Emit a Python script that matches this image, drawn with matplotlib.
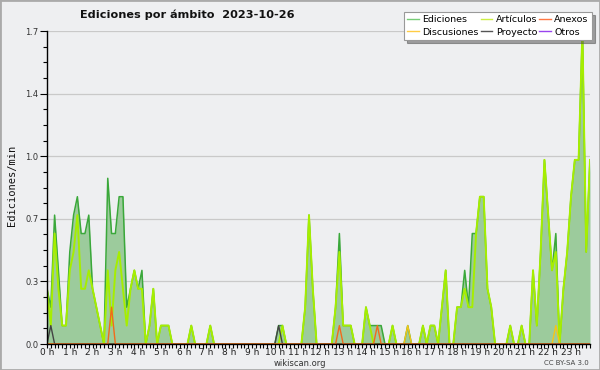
import numpy as np
import matplotlib
matplotlib.use("Agg")
import matplotlib.pyplot as plt
from matplotlib.lines import Line2D
from matplotlib.patches import Rectangle

# ---- data: edits/min in 10-minute bins (144 bins) ----
ediciones = [0.3, 0.2, 0.7, 0.4, 0.1, 0.1, 0.5, 0.7, 0.8, 0.6, 0.6, 0.7,
             0.3, 0.2, 0.1, 0.0, 0.9, 0.6, 0.6, 0.8, 0.8, 0.2, 0.3, 0.4,
             0.3, 0.4, 0.0, 0.1, 0.3, 0.0, 0.1, 0.1, 0.1, 0.0, 0.0, 0.0,
             0.0, 0.0, 0.1, 0.0, 0.0, 0.0, 0.0, 0.1, 0.0, 0.0, 0.0, 0.0,
             0.0, 0.0, 0.0, 0.0, 0.0, 0.0, 0.0, 0.0, 0.0, 0.0, 0.0, 0.0,
             0.0, 0.1, 0.1, 0.0, 0.0, 0.0, 0.0, 0.0, 0.2, 0.7, 0.3, 0.0,
             0.0, 0.0, 0.0, 0.0, 0.2, 0.6, 0.1, 0.1, 0.1, 0.0, 0.0, 0.0,
             0.2, 0.1, 0.1, 0.1, 0.1, 0.0, 0.0, 0.1, 0.0, 0.0, 0.0, 0.1,
             0.0, 0.0, 0.0, 0.1, 0.0, 0.1, 0.1, 0.0, 0.2, 0.4, 0.0, 0.0,
             0.2, 0.2, 0.4, 0.2, 0.6, 0.6, 0.8, 0.8, 0.3, 0.2, 0.0, 0.0,
             0.0, 0.0, 0.1, 0.0, 0.0, 0.1, 0.0, 0.0, 0.4, 0.1, 0.5, 1.0,
             0.7, 0.4, 0.6, 0.0, 0.3, 0.5, 0.8, 1.0, 1.0, 1.7, 0.5, 1.0]

articulos = [0.3, 0.1, 0.6, 0.3, 0.1, 0.1, 0.4, 0.5, 0.7, 0.3, 0.3, 0.4,
             0.3, 0.2, 0.1, 0.0, 0.4, 0.1, 0.4, 0.5, 0.3, 0.1, 0.3, 0.4,
             0.3, 0.3, 0.0, 0.1, 0.3, 0.0, 0.1, 0.1, 0.1, 0.0, 0.0, 0.0,
             0.0, 0.0, 0.1, 0.0, 0.0, 0.0, 0.0, 0.1, 0.0, 0.0, 0.0, 0.0,
             0.0, 0.0, 0.0, 0.0, 0.0, 0.0, 0.0, 0.0, 0.0, 0.0, 0.0, 0.0,
             0.0, 0.0, 0.1, 0.0, 0.0, 0.0, 0.0, 0.0, 0.2, 0.7, 0.3, 0.0,
             0.0, 0.0, 0.0, 0.0, 0.2, 0.5, 0.1, 0.1, 0.1, 0.0, 0.0, 0.0,
             0.2, 0.1, 0.0, 0.0, 0.0, 0.0, 0.0, 0.1, 0.0, 0.0, 0.0, 0.0,
             0.0, 0.0, 0.0, 0.1, 0.0, 0.1, 0.1, 0.0, 0.2, 0.4, 0.0, 0.0,
             0.2, 0.2, 0.3, 0.2, 0.2, 0.6, 0.8, 0.8, 0.3, 0.2, 0.0, 0.0,
             0.0, 0.0, 0.1, 0.0, 0.0, 0.1, 0.0, 0.0, 0.4, 0.1, 0.5, 1.0,
             0.7, 0.4, 0.5, 0.0, 0.3, 0.5, 0.8, 1.0, 1.0, 1.7, 0.5, 1.0]

anexos_bins = {17: 0.2, 77: 0.1, 87: 0.1}
discusiones_bins = {95: 0.1, 134: 0.1}
proyecto_bins = {1: 0.1, 61: 0.1}
otros_bins = {}

def expand(d):
    return [d.get(i, 0.0) for i in range(144)]

anexos = expand(anexos_bins)
discusiones = expand(discusiones_bins)
proyecto = expand(proyecto_bins)
otros = expand(otros_bins)

hours = np.arange(144) / 6.0
hour_labels = [f"{h} h" for h in range(24)]
ytick_vals = [0, 0.34, 0.68, 1.02, 1.36, 1.7]
ytick_labels = ["0.0", "0.3", "0.7", "1.0", "1.4", "1.7"]

BG = "#eeeff1"
fig = plt.figure(figsize=(6, 3.7), dpi=100, facecolor=BG)
ax = fig.add_axes([47/600, 26/370, 543/600, 313/370], facecolor=BG)

ax.fill_between(hours, ediciones, 0, color="#9ccb9c", lw=0, zorder=1)
ax.plot(hours, ediciones, color="#3aa83a", lw=1.1, zorder=2)
ax.plot(hours, articulos, color="#a6ee00", lw=1.4, zorder=3)
ax.plot(hours, discusiones, color="#f5c518", lw=1.0, zorder=3)
ax.plot(hours, proyecto, color="#444444", lw=1.0, zorder=3)
ax.plot(hours, anexos, color="#f26a1b", lw=1.0, zorder=4)
ax.plot(hours, otros, color="#9b30ff", lw=1.0, zorder=1.5)

ax.set_xlim(0, 143/6)
ax.set_ylim(0, 1.7)
ax.set_yticks(ytick_vals)
ax.set_yticklabels(ytick_labels, fontsize=6, color="#333333")
ax.set_yticks(np.arange(0, 1.71, 0.085), minor=True)
ax.set_xticks(range(24))
ax.set_xticklabels(hour_labels, fontsize=6.5, color="#222222")
ax.set_xticks(np.arange(144) / 6.0, minor=True)
ax.tick_params(axis="y", which="major", length=5, width=0.8, pad=1)
ax.tick_params(axis="y", which="minor", length=3, width=0.8)
ax.tick_params(axis="x", which="major", length=3, width=0.8, pad=0)
ax.tick_params(axis="x", which="minor", length=3, width=0.8)
ax.grid(axis="y", which="major", color="#c9c9c9", lw=0.9, zorder=0)
ax.set_axisbelow(True)
for s in ["top", "right"]:
    ax.spines[s].set_visible(False)
for s in ["left", "bottom"]:
    ax.spines[s].set_linewidth(1.0)
    ax.spines[s].set_zorder(5)

fig.text(187/600, 1 - 15/370, "Ediciones por ámbito  2023-10-26", ha="center",
         va="center", fontsize=8.1, fontweight="bold", color="#111111")
fig.text(12/600, 1 - 185/370, "Ediciones/min", rotation=90, ha="center",
         va="center", fontsize=7.5, family="DejaVu Sans Mono", color="#111111")
fig.text(300/600, 1 - 363/370, "wikiscan.org", ha="center", va="center",
         fontsize=6, color="#333333")
fig.text(589/600, 1 - 363/370, "CC BY-SA 3.0", ha="right", va="center",
         fontsize=5, color="#444444")

handles = [
    Line2D([], [], color="#77cc77", lw=1),
    Line2D([], [], color="#ffcc44", lw=1),
    Line2D([], [], color="#ccee44", lw=1),
    Line2D([], [], color="#555555", lw=1),
    Line2D([], [], color="#ff7744", lw=1),
    Line2D([], [], color="#9944ee", lw=1),
]
labels = ["Ediciones", "Discusiones", "Artículos", "Proyecto", "Anexos", "Otros"]
leg = fig.legend(handles, labels, loc="upper right", bbox_to_anchor=(592/600, 1 - 12/370),
                 ncol=3, fontsize=6.8, frameon=True, fancybox=False, shadow=True,
                 handlelength=1.2, handletextpad=0.4, columnspacing=0.2,
                 labelspacing=0.35, borderpad=0.35, borderaxespad=0)
leg.get_frame().set_edgecolor("#999999")
leg.get_frame().set_linewidth(0.8)
leg.get_frame().set_facecolor("white")

fig.add_artist(Rectangle((0, 0), 1, 1, transform=fig.transFigure, fill=False,
                         ec="#aaaaaa", lw=2))

fig.savefig("out.png", dpi=100, facecolor=BG)
